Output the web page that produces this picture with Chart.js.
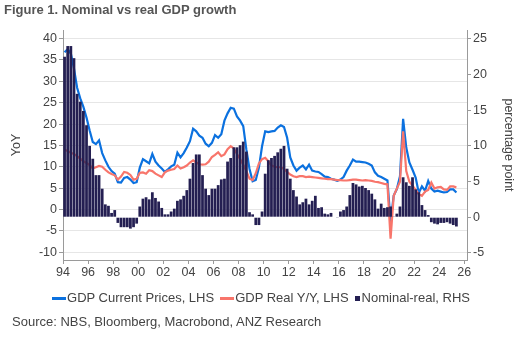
<!DOCTYPE html>
<html>
<head>
<meta charset="utf-8">
<script src="https://cdn.jsdelivr.net/npm/chart.js@4.4.1/dist/chart.umd.min.js"></script>
<style>
html,body{margin:0;padding:0;background:#fff;}
#wrap{position:relative;width:522px;height:340px;font-family:"Liberation Sans",Arial,sans-serif;overflow:hidden;}
#title{position:absolute;left:4px;top:2px;font-size:13px;font-weight:bold;color:#555;line-height:16px;white-space:nowrap;}
#chart{position:absolute;left:0;top:0;}
#legend{position:absolute;left:3px;top:290px;width:522px;display:flex;justify-content:center;align-items:center;font-size:13px;color:#444;line-height:16px;white-space:nowrap;}
#legend .it{display:flex;align-items:center;margin-right:6px;}
#legend .ln{display:inline-block;width:14px;height:3px;margin-right:1px;}
#legend .sq{display:inline-block;width:5px;height:5px;margin-right:2px;}
#source{position:absolute;left:12px;top:314px;font-size:13px;color:#444;line-height:16px;white-space:nowrap;}
</style>
</head>
<body>
<div id="wrap">
  <canvas id="chart" width="522" height="340"></canvas>
  <div id="title">Figure 1. Nominal vs real GDP growth</div>
  <div id="legend"></div>
  <div id="source">Source: NBS, Bloomberg, Macrobond, ANZ Research</div>
</div>
<script>
// ---- categories: quarters from 1994Q1 to 2025Q2 ----
const firstYear = 1994;
const quarterCount = 126;
const quarters = [];
for (let i = 0; i < quarterCount; i++) {
  quarters.push((firstYear + Math.floor(i / 4)) + 'Q' + (i % 4 + 1));
}

// ---- series ----
const seriesNames = ['GDP Current Prices, LHS', 'GDP Real Y/Y, LHS', 'Nominal-real, RHS'];

const nominalGdp = [
  36.8, 37.5, 36.5, 33.0,  28.5, 26.0, 24.0, 21.5,  18.5, 15.8, 15.3, 16.2,  13.2, 11.5, 10.0, 9.0,
  8.4, 6.4, 6.3, 7.4,  7.6, 7.0, 6.2, 6.4,  9.8, 11.8, 11.3, 10.8,  13.0, 11.2, 10.3, 9.6,
  8.8, 9.4, 10.1, 10.5,  13.3, 12.2, 13.2, 14.5,  16.0, 18.9, 18.3, 17.3,  16.8, 15.4, 14.8, 15.6,
  17.4, 16.8, 17.6, 20.8,  22.5, 23.8, 23.6, 21.8,  20.8, 19.5, 14.0, 9.5,  6.6, 6.9, 9.8, 14.8,
  18.3, 18.1, 18.3, 18.4,  19.2, 19.7, 19.3, 16.8,  12.2, 10.3, 9.1, 9.8,  10.3, 9.4, 10.5, 9.1,
  8.9, 8.8, 8.3, 7.7,  7.6, 7.2, 7.0, 6.7,  7.0, 7.6, 9.1, 10.3,  11.7, 11.2, 11.2, 11.1,
  11.0, 10.7, 10.3, 8.7,  7.9, 7.6, 7.2, 6.8,  -3.0, 3.3, 4.8, 7.8,  21.2, 14.5, 11.0, 9.3,
  7.5, 3.9, 5.4, 4.4,  6.7, 4.9, 4.2, 4.4,  4.2, 4.0, 4.1, 4.7,  4.7, 4.0
];

const realGdp = [
  14.0, 13.7, 13.3, 13.0,  12.5, 11.9, 11.3, 10.9,  10.4, 9.6, 9.9, 10.2,  10.0, 9.3, 8.7, 8.3,
  8.0, 7.0, 7.7, 8.8,  8.6, 8.1, 7.0, 7.2,  8.6, 8.7, 8.4, 9.2,  9.0, 8.4, 8.0, 7.6,
  8.7, 9.1, 9.3, 9.5,  10.3, 9.6, 9.9, 10.3,  11.0, 11.5, 11.0, 10.6,  10.5, 10.6, 11.2, 12.3,
  12.8, 13.4, 12.5, 12.9,  14.1, 14.8, 14.3, 13.0,  11.8, 10.5, 9.0, 7.2,  6.9, 8.5, 10.8, 11.8,
  12.1, 11.3, 10.3, 10.0,  9.9, 9.9, 9.5, 8.8,  8.2, 7.8, 7.6, 7.8,  7.8, 7.6, 7.7, 7.6,
  7.5, 7.4, 7.3, 7.2,  7.1, 7.1, 7.0, 6.9,  6.9, 6.8, 6.8, 6.9,  7.0, 7.0, 6.9, 6.8,
  6.9, 6.8, 6.7, 6.5,  6.4, 6.2, 6.0, 5.9,  -6.8, 3.2, 4.9, 6.5,  18.3, 9.0, 6.5, 5.6,
  4.6, 3.6, 3.2, 4.2,  4.6, 6.3, 4.9, 5.2,  5.3, 4.7, 4.6, 5.4,  5.4, 5.2
];

const nominalMinusReal = [
  22.5, 24.0, 24.0, 22.3,  17.3, 16.2, 14.9, 12.9,  10.0, 8.2, 5.9, 5.9,  4.0, 1.8, 1.6, 0.6,
  1.0, -0.8, -1.4, -1.4,  -1.4, -1.6, -1.4, -0.9,  1.5, 2.6, 2.8, 2.5,  3.5, 2.7, 2.2, 1.3,
  0.4, 0.4, 0.8, 1.2,  2.3, 2.5, 3.0, 3.8,  5.4, 7.6, 8.8, 8.8,  5.9, 4.0, 3.1, 4.0,
  4.0, 4.5, 5.3, 5.4,  7.8, 8.3, 9.8, 9.8,  10.1, 10.6, 9.2, 0.7,  0.4, -1.1, -1.1, 0.8,
  6.1, 8.0, 8.3, 8.6,  9.1, 9.6, 10.0, 6.8,  5.4, 3.8, 2.9, 1.8,  2.1, 2.6, 1.8, 2.3,
  3.0, 1.3, 1.4, 0.5,  0.4, 0.6, 0.0, -0.1,  0.8, 1.0, 1.5, 3.1,  4.8, 4.6, 4.3, 4.4,
  4.1, 3.8, 3.3, 2.5,  1.2, 1.9, 1.3, 1.4,  1.5, 0.1, 0.5, 1.5,  5.6, 4.9, 4.4, 5.6,
  3.9, 3.5, 1.7, 1.0,  0.3, -0.7, -0.9, -1.0,  -0.8, -0.8, -0.7, -0.9,  -1.1, -1.3
];

// ---- tick labels ----
const xTicks = [1994,1996,1998,2000,2002,2004,2006,2008,2010,2012,2014,2016,2018,2020,2022,2024,2026];
const leftTicks = [-10,-5,0,5,10,15,20,25,30,35,40];
const rightTicks = [-5,0,5,10,15,20,25];

const colors = { nominal: '#0b71df', real: '#f8756b', gap: '#241f52' };

// quarter label -> mid-quarter position on a year axis
function qx(label) {
  const y = parseInt(label.slice(0, 4), 10);
  const q = parseInt(label.slice(5), 10);
  return y + (q - 1) / 4 + 0.125;
}
function pts(arr) { return arr.map((v, i) => ({ x: qx(quarters[i]), y: v })); }

const tickFont = { family: '"Liberation Sans", Arial, sans-serif', size: 12.5 };
const axisGray = '#9a9a9a';
const textGray = '#444';

const chart = new Chart(document.getElementById('chart'), {
  type: 'bar',
  data: {
    datasets: [
      {
        type: 'bar', label: seriesNames[2], data: pts(nominalMinusReal), yAxisID: 'y1',
        backgroundColor: colors.gap, borderWidth: 0, barPercentage: 0.88, categoryPercentage: 1, order: 1
      },
      {
        type: 'line', label: seriesNames[1], data: pts(realGdp), yAxisID: 'y',
        borderColor: colors.real, borderWidth: 2.2, pointRadius: 0, tension: 0, fill: false, order: 2
      },
      {
        type: 'line', label: seriesNames[0], data: pts(nominalGdp), yAxisID: 'y',
        borderColor: colors.nominal, borderWidth: 2.2, pointRadius: 0, tension: 0, fill: false, order: 3
      }
    ]
  },
  options: {
    responsive: false,
    animation: false,
    devicePixelRatio: 1,
    layout: { padding: { top: 30, bottom: 60, left: 0, right: 0 } },
    plugins: { legend: { display: false }, tooltip: { enabled: false }, title: { display: false } },
    scales: {
      x: {
        type: 'linear', min: 1994, max: 2026.22, offset: false,
        afterBuildTicks: s => { s.ticks = xTicks.map(v => ({ value: v })); },
        afterFit: s => { s.height = 20; },
        ticks: { autoSkip: false, maxRotation: 0, padding: 1, font: tickFont, color: textGray,
                 callback: v => String(v).slice(2) },
        grid: { offset: false, drawOnChartArea: false, drawTicks: true, tickLength: 4, tickColor: axisGray, color: axisGray },
        border: { color: axisGray, width: 1 }
      },
      y: {
        position: 'left', min: -11.8, max: 42,
        afterBuildTicks: s => { s.ticks = leftTicks.map(v => ({ value: v })); },
        afterFit: s => { s.width = 63; },
        ticks: { padding: 2, font: tickFont, color: textGray },
        grid: { color: '#e6e6e6', tickLength: 4, tickColor: axisGray },
        border: { color: axisGray, width: 1 },
        title: { display: true, text: 'YoY', font: tickFont, color: textGray, padding: { top: 9, bottom: 0 } }
      },
      y1: {
        position: 'right', min: -6, max: 26.25,
        afterBuildTicks: s => { s.ticks = rightTicks.map(v => ({ value: v })); },
        afterFit: s => { s.width = 55; },
        ticks: { padding: 2, font: tickFont, color: textGray },
        grid: { drawOnChartArea: false, tickLength: 4, tickColor: axisGray, color: axisGray },
        border: { color: axisGray, width: 1 },
        title: { display: true, text: 'percentage point', font: tickFont, color: textGray, padding: { top: 6, bottom: 0 } }
      }
    }
  }
});

// HTML legend built from the datasets
const legendEl = document.getElementById('legend');
const legendOrder = [2, 1, 0];
legendOrder.forEach(di => {
  const ds = chart.data.datasets[di];
  const it = document.createElement('span');
  it.className = 'it';
  const sw = document.createElement('i');
  if (ds.type === 'line') { sw.className = 'ln'; sw.style.background = ds.borderColor; }
  else { sw.className = 'sq'; sw.style.background = ds.backgroundColor; }
  it.appendChild(sw);
  it.appendChild(document.createTextNode(ds.label));
  legendEl.appendChild(it);
});
</script>
</body>
</html>
